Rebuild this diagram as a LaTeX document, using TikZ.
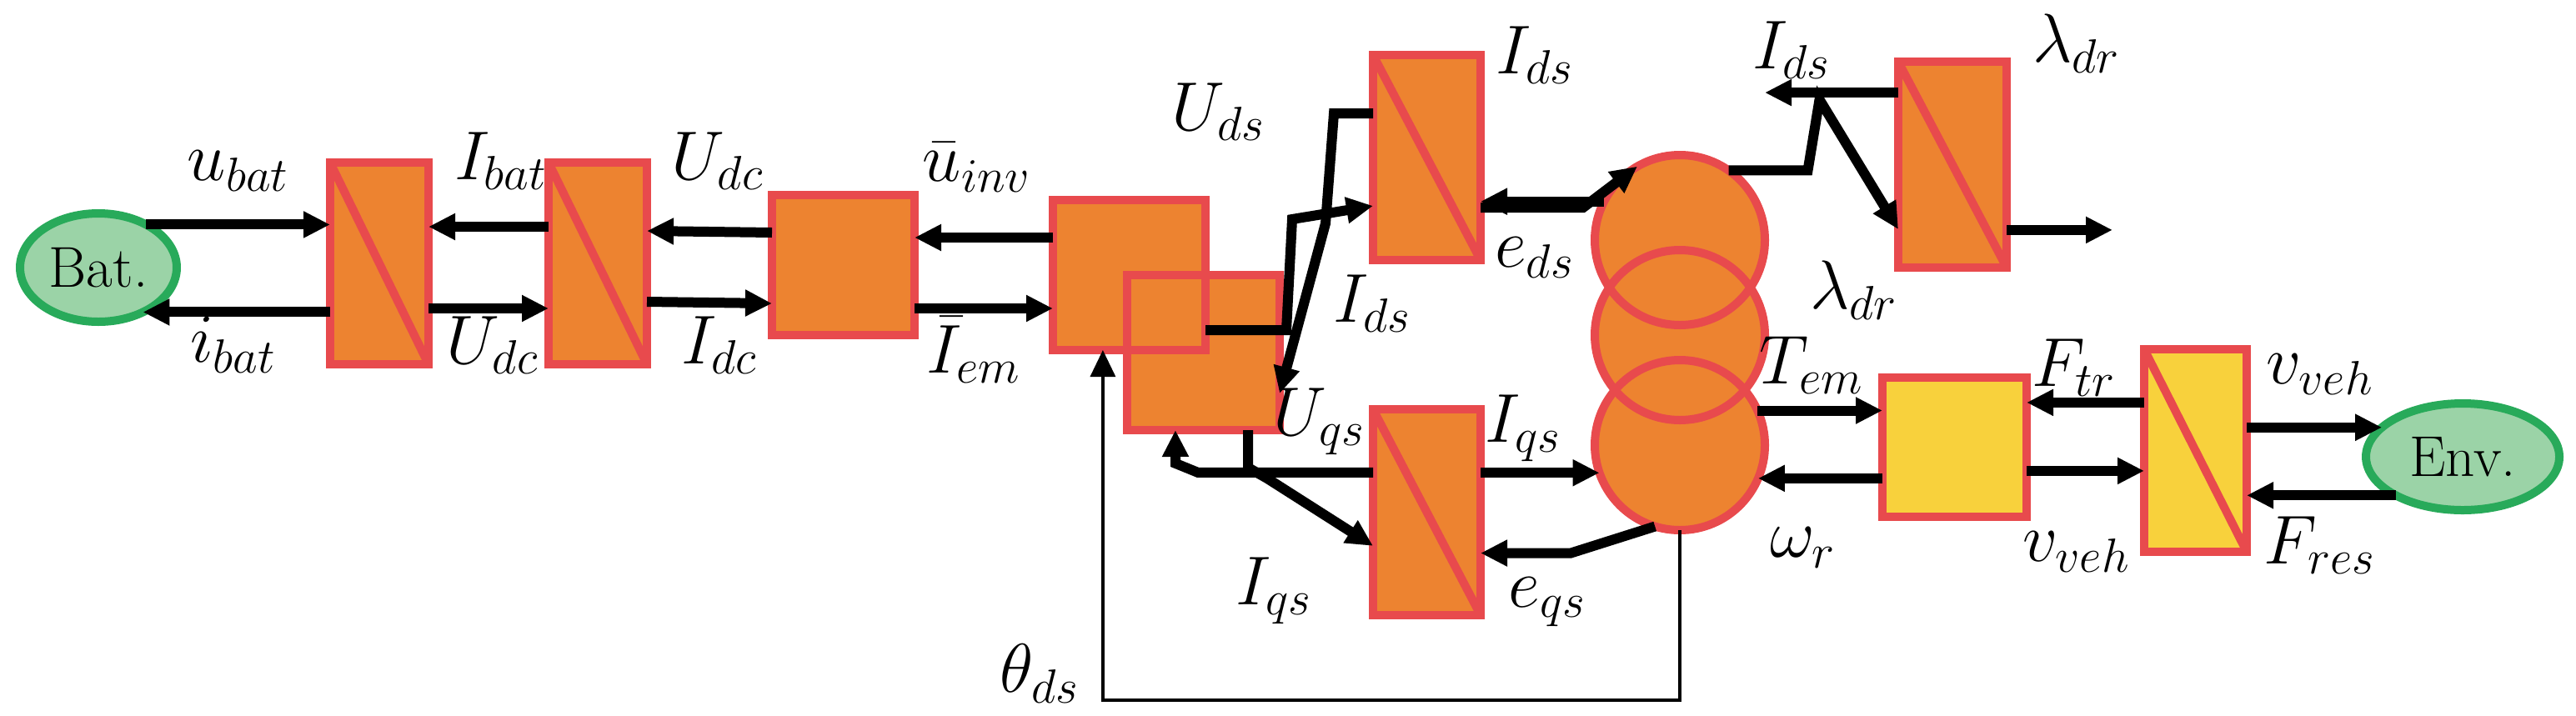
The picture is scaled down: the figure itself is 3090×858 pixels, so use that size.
\documentclass[tikz,border=0pt]{standalone}
\usetikzlibrary{arrows.meta,calc,shapes.geometric}

\definecolor{emrorange}{RGB}{237,131,48}
\definecolor{emrred}{RGB}{232,74,77}
\definecolor{emryellow}{RGB}{248,209,60}
\definecolor{emrgreen}{RGB}{155,211,167}
\definecolor{emrgreenline}{RGB}{40,170,90}

\tikzset{
  sz/.style 2 args={minimum width=#1*0.25pt,minimum height=#2*0.25pt},
  blk/.style={rectangle,draw=emrred,line width=2.5pt,fill=emrorange,inner sep=0pt,outer sep=0pt},
  conv/.style={blk,path picture={\draw[emrred,line width=2.5pt] (path picture bounding box.north west) -- (path picture bounding box.south east);}},
  src/.style={ellipse,draw=emrgreenline,line width=2.5pt,fill=emrgreen,inner sep=0pt,outer sep=0pt,font=\LARGE},
  edge/.style={draw=emrred,line width=2.5pt},
  sig/.style={line width=3pt,-{Triangle[length=8pt,width=7.5pt]}},
  thin sig/.style={line width=0.8pt,-{Triangle[length=8pt,width=7.5pt]}},
  lbl/.style={font=\huge,inner sep=0pt}
}

\begin{document}
\begin{tikzpicture}[x=0.25pt,y=0.25pt,yscale=-1]
\useasboundingbox (0,0) rectangle (3090,858);

% sources
\node[src,minimum width=47pt,minimum height=32.5pt] (bat) at (118,321) {Bat.};
\node[src,minimum width=58pt,minimum height=32pt] (env) at (2954,548) {Env.};

% DC side
\node[conv,sz={118}{242}] (b1) at (455,316) {};
\node[conv,sz={118}{242}] (b2) at (717,316) {};
\node[blk,sz={171}{168}] (b3) at (1011.5,318) {};

% inverter
\node[blk,sz={183}{180}] (b4) at (1354.5,330) {};
\node[blk,sz={183}{186}] (b5) at (1443.5,423) {};
\draw[edge] (b4.south west) rectangle (b4.north east);

% d-q windings
\node[conv,sz={129}{246}] (bd) at (1711.5,189) {};
\node[conv,sz={129}{247}] (bq) at (1711.5,614.5) {};

% machine
\foreach \n/\y in {c1/288,c2/402,c3/534}
  \node[circle,fill=emrorange,minimum size=51pt,inner sep=0pt,outer sep=0pt] (\n) at (2015,\y) {};
\foreach \n in {c1,c2,c3}
  \draw[edge] (\n.center) circle[radius=25.5pt];

\node[conv,sz={130}{247}] (bl) at (2342,197.5) {};

% mechanical side
\node[blk,fill=emryellow,sz={173}{167}] (y1) at (2344.5,536.5) {};
\node[conv,fill=emryellow,sz={123}{243}] (y2) at (2633.5,540.5) {};

% signals
\draw[sig] (bat.42) -- (bat.42 -| b1.west);
\draw[sig] (b1.west |- bat.-45) -- (bat.-45);
\draw[sig] ([yshift=13.5pt]b1.east) -- ([yshift=13.5pt]b2.west);
\draw[sig] ([yshift=-11pt]b2.west) -- ([yshift=-11pt]b1.east);
\draw[sig] ([yshift=11.5pt]b2.east) -- ([yshift=11.5pt]b3.west);
\draw[sig] ([yshift=-9.75pt]b3.west) -- ([yshift=-9.75pt]b2.east);
\draw[sig] ([yshift=13pt]b3.east) coordinate (ui) -- (ui -| b4.west);
\draw[sig] ([yshift=-8.25pt]b3.east) coordinate (ie) (ie -| b4.west) -- (ie);

\draw[sig] ([yshift=16.5pt]b4.east) -- ++(97,0) -- ++(7,-133) -- ([yshift=14.5pt]bd.west);
\draw[sig] ([yshift=-13.25pt]bd.west) -- ++(-47,0) -- ++(-10,132) -- ([yshift=12.25pt]b5.east);
\draw[sig] ([yshift=15pt]bd.east) -- ++(123,0) -- (c1.120);
\draw[sig] (c1.153) -- (c1.153 -| bd.east);

\draw[sig] ([xshift=13.4pt]b5.south) -- ++(0,45) -- ++(23,13) -- ([yshift=10.1pt]bq.west);
\draw[sig] ([yshift=-11.9pt]bq.west) -- ++(-210,0) -- ++(-27,-11) -- ([xshift=-8.4pt]b5.south);
\draw[sig] (bq.east |- c3.199) -- (c3.199);
\draw[sig] (c3.-107) -- ++(-101,32) coordinate (eq) -- (eq -| bq.east);

\draw[sig] (c1.55) -- ++(95,0) -- ++(14,-85) -- ([yshift=19.4pt]bl.west);
\draw[sig] ([yshift=-21.6pt]bl.west) coordinate (lb) -- (lb -| c1.east);
\draw[sig] ([yshift=19.6pt]bl.east) -- ++(127,0) coordinate (lout);

\draw[sig] (c3.24) -- (c3.24 -| y1.west);
\draw[sig] (y1.west |- c3.-23) -- (c3.-23);
\draw[sig] ([yshift=7.1pt]y1.east) coordinate (ftr) -- (ftr -| y2.west);
\draw[sig] ([yshift=-13.4pt]y1.east) coordinate (vv) (vv -| y2.west) -- (vv);
\draw[sig] (y2.east |- env.160) -- (env.160);
\draw[sig] (env.-150) -- (env.-150 -| y2.east);

\coordinate (thb) at ([xshift=-7.9pt]b4.south);
\draw[thin sig] (c3.south) -- ++(0,204) coordinate (th) -- (thb |- th) -- (thb);

% labels
\node[lbl] (l1) at (286,205) {$u_{bat}$};
\node[lbl] (l2) at (280,414) {$i_{bat}$};
\node[lbl] (l3) at (601,193) {$I_{bat}$};
\node[lbl] (l4) at (591,414) {$U_{dc}$};
\node[lbl] (l5) at (861,193) {$U_{dc}$};
\node[lbl] (l6) at (863,414) {$I_{dc}$};
\node[lbl] (l7) at (1172,201) {$\bar{u}_{inv}$};
\node[lbl] (l8) at (1168,420) {$\bar{I}_{em}$};
\node[lbl] (l9) at (1462,134) {$U_{ds}$};
\node[lbl] (l10) at (1841,66) {$I_{ds}$};
\node[lbl] (l11) at (1841,309) {$e_{ds}$};
\node[lbl] (l12) at (1646,364) {$I_{ds}$};
\node[lbl] (l13) at (1583,506) {$U_{qs}$};
\node[lbl] (l14) at (1827,514) {$I_{qs}$};
\node[lbl] (l15) at (1528,709) {$I_{qs}$};
\node[lbl] (l16) at (1856,722) {$e_{qs}$};
\node[lbl] (l17) at (1247,808) {$\theta_{ds}$};
\node[lbl] (l18) at (2149,60) {$I_{ds}$};
\node[lbl] (l19) at (2491,52) {$\lambda_{dr}$};
\node[lbl] (l20) at (2224,348) {$\lambda_{dr}$};
\node[lbl] (l21) at (2173,438) {$T_{em}$};
\node[lbl] (l22) at (2163,657) {$\omega_r$};
\node[lbl] (l23) at (2488,441) {$F_{tr}$};
\node[lbl] (l24) at (2491,662) {$v_{veh}$};
\node[lbl] (l25) at (2783,449) {$v_{veh}$};
\node[lbl] (l26) at (2783,654) {$F_{res}$};
\end{tikzpicture}
\end{document}
